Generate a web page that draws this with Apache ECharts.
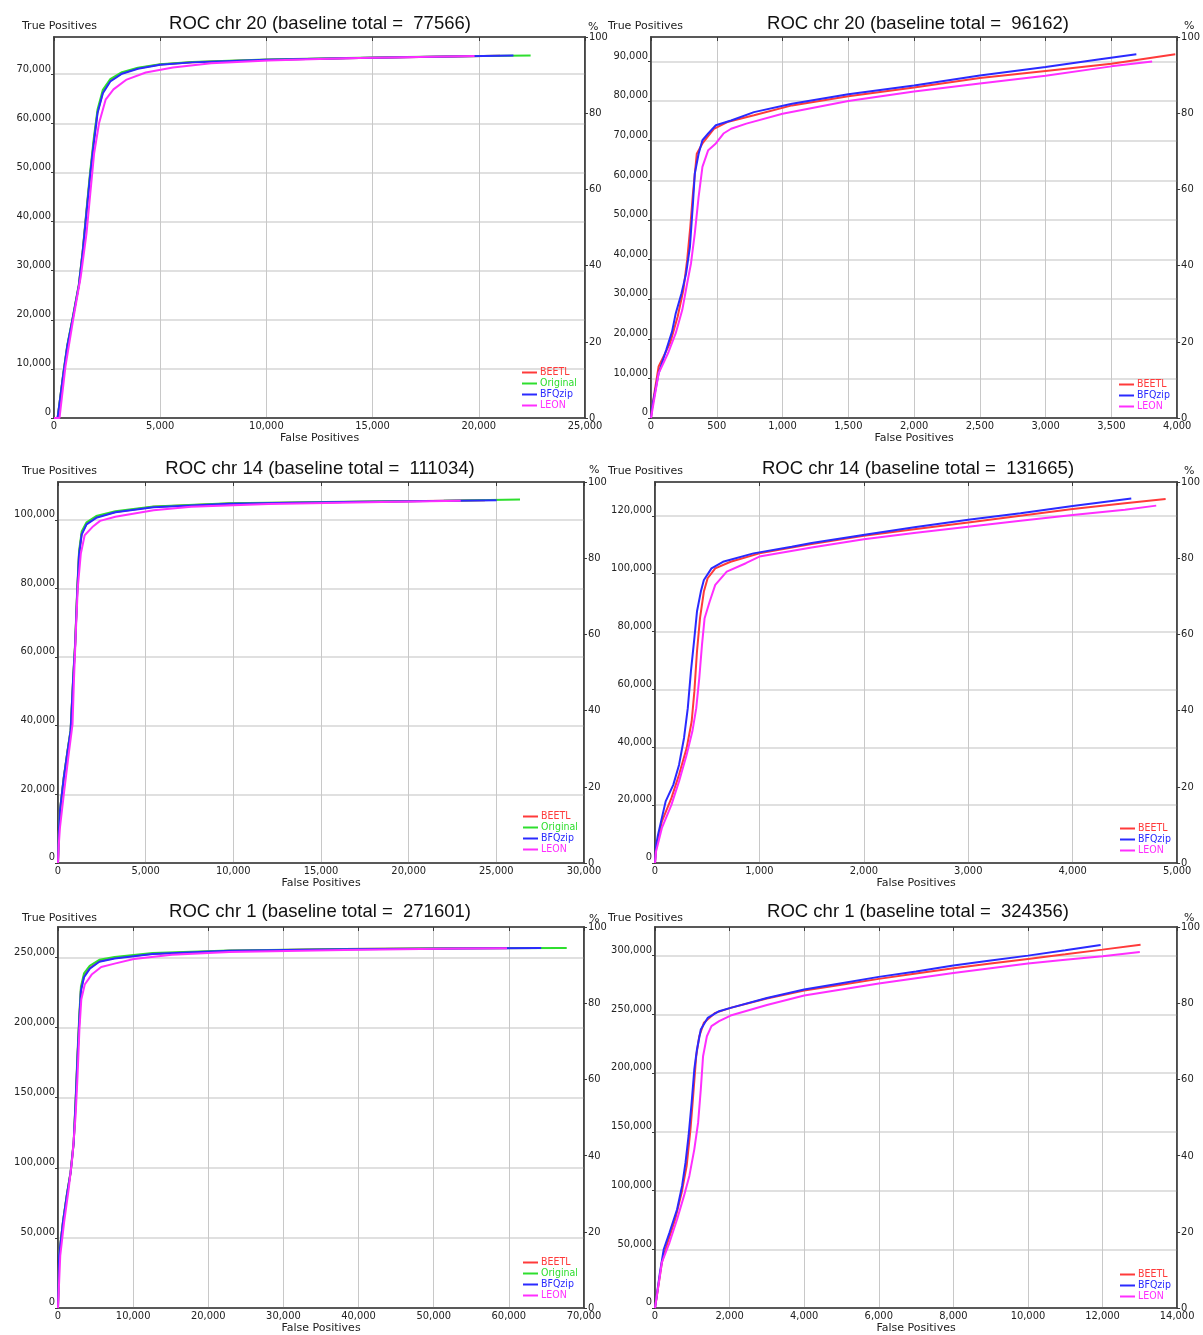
<!DOCTYPE html>
<html>
<head>
<meta charset="utf-8">
<script src="https://cdn.jsdelivr.net/npm/echarts@6/dist/echarts.min.js"></script>
<style>
html,body{margin:0;padding:0;background:#ffffff;}
#c{width:1203px;height:1335px;}
</style>
</head>
<body>
<div id="c"></div>
<script>
// ---------------- DATA ----------------
const panelTitles = [
  'ROC chr 20 (baseline total =  77566)',
  'ROC chr 20 (baseline total =  96162)',
  'ROC chr 14 (baseline total =  111034)',
  'ROC chr 14 (baseline total =  131665)',
  'ROC chr 1 (baseline total =  271601)',
  'ROC chr 1 (baseline total =  324356)'
];
const baselineTotals = [77566, 96162, 111034, 131665, 271601, 324356];
const xMax = [25000, 4000, 30000, 5000, 70000, 14000];
const xStep = [5000, 500, 5000, 1000, 10000, 2000];
const yStep = [10000, 10000, 20000, 20000, 50000, 50000];
const pctMax = 100;
const pctStep = 20;
const yAxisName = 'True Positives';
const xAxisName = 'False Positives';
const pctName = '%';
const seriesNames4 = ['BEETL', 'Original', 'BFQzip', 'LEON'];
const seriesNames3 = ['BEETL', 'BFQzip', 'LEON'];

// Panel 1: chr 20, baseline 77566  [false positives, true positives]
const p1_BEETL = [[0,0],[170,0],[440,9000],[620,14500],[900,20700],[1170,27000],[1350,33800],[1530,42000],[1700,49500],[1880,56500],[2050,62300],[2300,66300],[2650,68700],[3200,70200],[3950,71200],[5000,71950],[6500,72450],[10000,72950],[15000,73350],[21000,73750]];
const p1_Original = [[0,0],[170,0],[440,9200],[620,14700],[900,20900],[1170,27200],[1350,34000],[1530,42400],[1700,50000],[1880,57200],[2050,62800],[2300,66800],[2650,69000],[3200,70400],[3950,71300],[5000,72000],[6500,72500],[10000,73000],[15000,73400],[19000,73650],[22440,73800]];
const p1_BFQzip = [[0,0],[170,0],[440,9000],[620,14500],[900,20700],[1170,27000],[1350,33700],[1530,41800],[1700,49300],[1880,56200],[2050,62100],[2300,66100],[2650,68500],[3200,70100],[3950,71100],[5000,71900],[6500,72400],[10000,72950],[15000,73350],[21630,73780]];
const p1_LEON = [[0,0],[260,0],[540,10500],[900,20000],[1260,28800],[1530,37600],[1710,45800],[1890,53900],[2120,60000],[2430,64800],[2800,66900],[3420,68900],[4320,70350],[5600,71350],[7400,72200],[10100,72800],[13700,73250],[19800,73700]];

// Panel 2: chr 20, baseline 96162
const p2_BEETL = [[0,0],[10,3000],[58,13000],[145,18900],[203,25600],[246,32300],[275,39900],[299,48300],[319,56700],[348,66700],[391,69300],[478,73000],[580,74700],[783,76400],[1072,78900],[1500,81200],[2000,83400],[2500,85800],[3000,87600],[3500,89400],[3986,91800]];
const p2_BFQzip = [[0,0],[10,3000],[58,11300],[116,17200],[160,21800],[188,26400],[232,31500],[267,36500],[296,43200],[319,54200],[333,61700],[362,66700],[391,70100],[435,71800],[493,73900],[609,75100],[783,77200],[1072,79300],[1500,81700],[2000,83900],[2500,86450],[3000,88600],[3400,90500],[3690,91800]];
const p2_LEON = [[0,0],[58,11300],[130,16400],[188,21400],[238,27300],[275,34000],[304,39000],[333,46600],[362,55800],[391,63400],[435,67600],[493,69300],[551,71800],[609,73000],[725,74300],[1000,76800],[1500,80000],[2000,82400],[2500,84400],[3000,86400],[3500,88750],[3810,90000]];

// Panel 3: chr 14, baseline 111034
const p3_BEETL = [[0,0],[40,8000],[110,15100],[330,24800],[545,32600],[720,38500],[870,54100],[980,63800],[1090,78400],[1200,90100],[1350,96000],[1630,98900],[2180,100800],[3270,102300],[5450,103800],[9800,104800],[16300,105200],[24350,105700]];
const p3_Original = [[0,0],[40,8200],[110,15300],[330,25000],[545,32800],[720,38800],[870,54600],[980,64400],[1090,79000],[1200,90800],[1350,96600],[1630,99300],[2180,101100],[3270,102500],[5450,103900],[9800,104850],[16300,105300],[22000,105600],[26350,105900]];
const p3_BFQzip = [[0,0],[40,8000],[110,15100],[330,24800],[545,32600],[720,38500],[870,54000],[980,63600],[1090,78200],[1200,89800],[1350,95700],[1630,98700],[2180,100600],[3270,102200],[5450,103700],[9800,104700],[16300,105200],[25020,105750]];
const p3_LEON = [[0,0],[40,5000],[110,10200],[330,20000],[610,31700],[830,40500],[915,54100],[1020,67700],[1130,80400],[1300,90100],[1520,95500],[1960,97900],[2400,99700],[3270,100900],[5450,102800],[7600,103800],[12000,104600],[18500,105200],[22970,105600]];

// Panel 4: chr 14, baseline 131665
const p4_BEETL = [[0,0],[10,5000],[66,14400],[157,22400],[230,30500],[303,39700],[351,48900],[377,59300],[402,73100],[431,84600],[468,93800],[504,98400],[577,101800],[724,104100],[1000,107000],[1500,110200],[2000,113100],[2500,115400],[3000,117700],[3500,120000],[4000,122300],[4500,124300],[4890,125800]];
const p4_BFQzip = [[0,0],[10,6000],[29,9800],[102,21300],[175,27000],[230,33900],[278,43200],[314,53500],[344,66200],[377,77700],[402,86900],[439,93800],[468,97800],[541,101800],[651,104100],[943,107000],[1309,109300],[1500,110600],[2039,113600],[2500,116100],[3000,118600],[3500,120900],[4000,123400],[4561,126000]];
const p4_LEON = [[0,0],[10,4000],[66,12100],[157,20100],[230,28200],[303,37400],[358,45500],[395,53500],[424,63900],[450,75400],[475,84600],[523,90300],[577,96100],[687,100700],[870,103600],[1000,105900],[1500,109000],[2000,111900],[2500,114100],[3000,116200],[3500,118300],[4000,120300],[4500,122100],[4800,123500]];

// Panel 5: chr 1, baseline 271601
const p5_BEETL = [[0,0],[150,37400],[660,61100],[1170,80100],[1680,96700],[2090,118000],[2340,146400],[2600,179600],[2850,208000],[3050,227000],[3460,236500],[4220,242400],[5500,247200],[7530,249500],[12600,252600],[22800,254700],[38100,255900],[53300,256400],[64100,256600]];
const p5_Original = [[0,0],[150,37800],[660,61600],[1170,80600],[1680,97300],[2090,119000],[2340,148000],[2600,182000],[2850,210500],[3050,229000],[3460,238500],[4220,244000],[5500,248200],[7530,250300],[12600,253000],[22800,254900],[38100,256000],[53300,256500],[67700,256700]];
const p5_BFQzip = [[0,0],[150,37400],[660,61100],[1170,80100],[1680,96700],[2090,118000],[2340,146000],[2600,179000],[2850,207000],[3050,226000],[3460,235800],[4220,241800],[5500,246800],[7530,249200],[12600,252400],[22800,254600],[38100,255800],[53300,256300],[64300,256600]];
const p5_LEON = [[0,0],[300,37400],[810,61100],[1420,84800],[1930,108500],[2340,137000],[2600,165400],[2850,198600],[3100,219900],[3560,230600],[4480,237700],[5750,243100],[7530,245500],[10080,248800],[15170,251900],[22800,253800],[38100,255200],[53300,256200],[59750,256400]];

// Panel 6: chr 1, baseline 324356
const p6_BEETL = [[0,0],[184,38800],[338,55800],[542,75600],[716,98300],[849,121000],[951,152100],[1023,180500],[1105,214400],[1187,231400],[1310,242800],[1616,251300],[2026,255500],[3000,263500],[4000,270300],[5000,275300],[6000,280200],[7000,284700],[8000,289200],[9000,293200],[10000,297200],[11000,301100],[12000,305100],[13020,309300]];
const p6_BFQzip = [[0,0],[133,30300],[235,50100],[389,64300],[593,84100],[726,104000],[818,123800],[900,146500],[982,174800],[1054,203100],[1125,220100],[1228,237100],[1412,247000],[1719,252700],[2026,255500],[3000,264000],[4000,271100],[5000,276500],[6000,281900],[7000,286500],[8000,291500],[9000,295800],[10000,300000],[11000,304500],[11950,309100]];
const p6_LEON = [[0,0],[184,38800],[389,55800],[593,75600],[777,95500],[921,112500],[1054,135100],[1156,157800],[1228,186100],[1289,214400],[1391,231400],[1514,240000],[1719,244200],[2026,249000],[3000,258000],[4000,266000],[5000,271200],[6000,276200],[7000,280800],[8000,285300],[9000,289300],[10000,293200],[11000,296400],[12000,299400],[13000,303100]];

const panelData = [
  {names: seriesNames4, data: [p1_BEETL, p1_Original, p1_BFQzip, p1_LEON]},
  {names: seriesNames3, data: [p2_BEETL, p2_BFQzip, p2_LEON]},
  {names: seriesNames4, data: [p3_BEETL, p3_Original, p3_BFQzip, p3_LEON]},
  {names: seriesNames3, data: [p4_BEETL, p4_BFQzip, p4_LEON]},
  {names: seriesNames4, data: [p5_BEETL, p5_Original, p5_BFQzip, p5_LEON]},
  {names: seriesNames3, data: [p6_BEETL, p6_BFQzip, p6_LEON]}
];

// ---------------- LAYOUT & STYLE ----------------
const colors = {BEETL: '#ff3a3a', Original: '#2ede2e', BFQzip: '#2a2aff', LEON: '#ff2eff'};
const gridBoxes = [
  {left: 54, top: 37, width: 531, height: 381},
  {left: 651, top: 37, width: 531, height: 381},
  {left: 58, top: 482, width: 526, height: 381},
  {left: 655, top: 482, width: 527, height: 381},
  {left: 58, top: 927, width: 526, height: 382},
  {left: 655, top: 927, width: 527, height: 382}
];
const titlePos = [[320, 14], [918, 14], [320, 459], [918, 459], [320, 902], [918, 902]];
const tpNamePos = [[22, 21], [608, 21], [22, 466], [608, 466], [22, 913], [608, 913]];
const pctNamePos = [[588, 22], [1184, 21], [589, 465], [1184, 466], [589, 914], [1184, 913]];
const legendPos = [[522, 367], [1119, 379], [523, 811], [1120, 823], [523, 1257], [1120, 1269]];

const titleFont = '"Liberation Sans", Arial, sans-serif';
const numFont = '"DejaVu Sans Condensed", "DejaVu Sans", sans-serif';
const nameFont = '"DejaVu Sans", Verdana, sans-serif';
const fmt = v => String(v).replace(/\B(?=(\d{3})+(?!\d))/g, ',');
const axisLineStyle = {show: true, onZero: false, lineStyle: {color: '#3a3a3a', width: 1.5}};

const option = {
  animation: false,
  backgroundColor: '#ffffff',
  title: [], grid: [], xAxis: [], yAxis: [], series: [], legend: []
};

for (let i = 0; i < 6; i++) {
  const g = gridBoxes[i];
  option.grid.push(Object.assign({show: true, borderColor: '#3a3a3a', borderWidth: 1.5, backgroundColor: 'transparent', containLabel: false}, g));

  option.title.push({
    text: panelTitles[i], left: titlePos[i][0], top: titlePos[i][1], textAlign: 'center', padding: 0,
    textStyle: {fontFamily: titleFont, fontSize: 18.5, fontWeight: 'normal', color: '#111'}
  });
  option.title.push({
    text: yAxisName, left: tpNamePos[i][0], top: tpNamePos[i][1], padding: 0,
    textStyle: {fontFamily: nameFont, fontSize: 11, fontWeight: 'normal', color: '#222'}
  });
  option.title.push({
    text: pctName, left: pctNamePos[i][0], top: pctNamePos[i][1], padding: 0,
    textStyle: {fontFamily: nameFont, fontSize: 11, fontWeight: 'normal', color: '#222'}
  });

  // bottom x axis
  option.xAxis.push({
    type: 'value', gridIndex: i, position: 'bottom', min: 0, max: xMax[i], interval: xStep[i],
    name: xAxisName, nameLocation: 'middle', nameGap: 14,
    nameTextStyle: {fontFamily: nameFont, fontSize: 11, color: '#222', verticalAlign: 'top'},
    axisLine: axisLineStyle,
    axisTick: {show: false},
    axisLabel: {fontFamily: numFont, fontSize: 11, color: '#222', margin: 3, formatter: fmt},
    splitLine: {show: true, lineStyle: {color: '#c8c8c8', width: 1}}
  });
  // top x axis (ticks only)
  option.xAxis.push({
    type: 'value', gridIndex: i, position: 'top', min: 0, max: xMax[i], interval: xStep[i],
    axisLine: axisLineStyle,
    axisTick: {show: true, inside: true, length: 4, lineStyle: {color: '#3a3a3a'}},
    axisLabel: {show: false}, splitLine: {show: false}
  });
  // left y axis (counts)
  option.yAxis.push({
    type: 'value', gridIndex: i, position: 'left', min: 0, max: baselineTotals[i], interval: yStep[i],
    axisLine: axisLineStyle,
    axisTick: {show: true, inside: false, length: 3, lineStyle: {color: '#3a3a3a'}},
    axisLabel: {fontFamily: numFont, fontSize: 11, color: '#222', margin: 3, verticalAlign: 'bottom', showMaxLabel: false, formatter: fmt},
    splitLine: {show: true, lineStyle: {color: '#d6d6d6', width: 1.5}}
  });
  // right y axis (percent)
  option.yAxis.push({
    type: 'value', gridIndex: i, position: 'right', min: 0, max: pctMax, interval: pctStep,
    axisLine: axisLineStyle,
    axisTick: {show: true, inside: false, length: 3, lineStyle: {color: '#3a3a3a'}},
    axisLabel: {fontFamily: numFont, fontSize: 11, color: '#222', margin: 4},
    splitLine: {show: false}
  });

  const pd = panelData[i];
  pd.names.forEach((nm, k) => {
    option.series.push({
      name: nm, type: 'line', xAxisIndex: 2 * i, yAxisIndex: 2 * i,
      data: pd.data[k], showSymbol: false, symbol: 'none',
      lineStyle: {color: colors[nm], width: 2}, itemStyle: {color: colors[nm]},
      z: 2 + k
    });
  });

  option.legend.push({
    orient: 'vertical', left: legendPos[i][0], top: legendPos[i][1], padding: 0, itemGap: 0,
    itemWidth: 15, itemHeight: 2, icon: 'rect', selectedMode: false,
    data: pd.names.map(nm => ({name: nm, textStyle: {color: colors[nm]}})),
    textStyle: {fontFamily: numFont, fontSize: 10.5, lineHeight: 10.8, padding: [0, 0, 0, -2]}
  });
}

const chart = echarts.init(document.getElementById('c'), null, {renderer: 'canvas', width: 1203, height: 1335});
chart.setOption(option);
</script>
</body>
</html>
